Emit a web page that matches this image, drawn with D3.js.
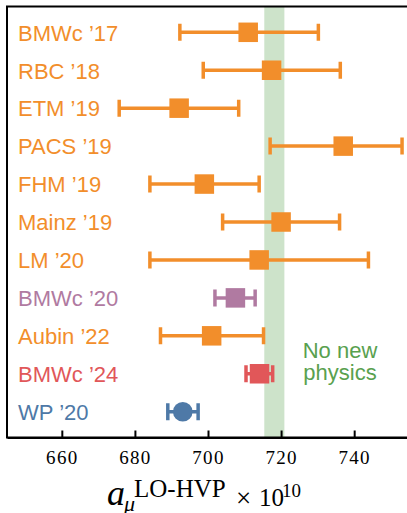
<!DOCTYPE html>
<html>
<head>
<meta charset="utf-8">
<script src="https://cdn.jsdelivr.net/npm/d3@7"></script>
<style>
  html, body { margin: 0; padding: 0; background: #fff; }
  svg { display: block; }
  .serif { font-family: "Liberation Serif", "Times New Roman", serif; }
</style>
</head>
<body>
<svg id="chart" width="407" height="513"></svg>
<script>
// ---- data ----
const labels = ["BMWc ’17", "RBC ’18", "ETM ’19", "PACS ’19", "FHM ’19", "Mainz ’19",
                "LM ’20", "BMWc ’20", "Aubin ’22", "BMWc ’24", "WP ’20"];
const values = [711.0, 717.4, 692.1, 737.0, 699.0, 720.0, 714.0, 707.5, 701.0, 714.1, 693.1];
const lower  = [692.3, 698.7, 675.7, 717.0, 684.1, 704.0, 684.1, 701.9, 687.0, 710.4, 689.0];
const upper  = [730.2, 736.2, 708.4, 753.1, 714.0, 736.0, 743.9, 712.9, 715.2, 717.7, 697.3];
const groups = ["lattice", "lattice", "lattice", "lattice", "lattice", "lattice",
                "lattice", "bmw20", "lattice", "bmw24", "wp"];
const markers = ["square", "square", "square", "square", "square", "square",
                 "square", "square", "square", "square", "circle"];
const band = [715.4, 720.9];
const tickValues = [660, 680, 700, 720, 740];
const bandLabel = ["No new", "physics"];

const colors = { lattice: "#f28e2b", bmw20: "#b07aa1", bmw24: "#e15759", wp: "#4e79a7" };
const green = "#59a14f";

(function () {
// ---- layout ----
const svg = d3.select("#chart");
const pl = 7, pr = 409, pt = 6.5, pb = 437.5;
const serifFam = "'Liberation Serif', 'Times New Roman', serif";

const x = d3.scaleLinear().domain([645, 755]).range([pl, pr]);
const y = d3.scaleLinear().domain([-0.68, 10.68]).range([pt, pb]);

const data = labels.map((l, i) => ({
  label: l, v: values[i], lo: lower[i], hi: upper[i],
  color: colors[groups[i]], marker: markers[i], i
}));

svg.append("defs").append("clipPath").attr("id", "clip")
  .append("rect").attr("x", pl).attr("y", pt).attr("width", pr - pl).attr("height", pb - pt);

const plot = svg.append("g").attr("clip-path", "url(#clip)");

// band
plot.append("rect")
  .attr("x", x(band[0])).attr("width", x(band[1]) - x(band[0]))
  .attr("y", pt).attr("height", pb - pt)
  .attr("fill", green).attr("fill-opacity", 0.3);

// error bars
const capH = 17;
const eb = plot.selectAll("g.eb").data(data).join("g").attr("class", "eb");
eb.append("line")
  .attr("x1", d => x(d.lo)).attr("x2", d => x(d.hi))
  .attr("y1", d => y(d.i)).attr("y2", d => y(d.i))
  .attr("stroke", d => d.color).attr("stroke-width", 3.5);
eb.append("line")
  .attr("x1", d => x(d.lo)).attr("x2", d => x(d.lo))
  .attr("y1", d => y(d.i) - capH / 2).attr("y2", d => y(d.i) + capH / 2)
  .attr("stroke", d => d.color).attr("stroke-width", 3.5);
eb.append("line")
  .attr("x1", d => x(d.hi)).attr("x2", d => x(d.hi))
  .attr("y1", d => y(d.i) - capH / 2).attr("y2", d => y(d.i) + capH / 2)
  .attr("stroke", d => d.color).attr("stroke-width", 3.5);

// markers
const sq = 19.5;
plot.selectAll("rect.m").data(data.filter(d => d.marker === "square")).join("rect")
  .attr("class", "m")
  .attr("x", d => x(d.v) - sq / 2).attr("y", d => y(d.i) - sq / 2)
  .attr("width", sq).attr("height", sq)
  .attr("fill", d => d.color);
plot.selectAll("circle.m").data(data.filter(d => d.marker === "circle")).join("circle")
  .attr("class", "m")
  .attr("cx", d => x(d.v)).attr("cy", d => y(d.i)).attr("r", 9.8)
  .attr("fill", d => d.color);

// labels
svg.selectAll("text.lab").data(data).join("text")
  .attr("class", "lab")
  .attr("x", 18).attr("y", d => y(d.i) + 8.3)
  .style("font-family", "'Liberation Sans', Arial, sans-serif")
  .style("font-size", "22px")
  .attr("fill", d => d.color)
  .text(d => d.label);

// band label
svg.selectAll("text.bl").data(bandLabel).join("text")
  .attr("class", "bl")
  .attr("x", 340).attr("y", (d, i) => 358 + i * 22)
  .attr("text-anchor", "middle")
  .style("font-family", "'Liberation Sans', Arial, sans-serif")
  .style("font-size", "22px")
  .attr("fill", green)
  .text(d => d);

// frame (spines)
svg.append("rect")
  .attr("x", pl).attr("y", pt).attr("width", pr - pl + 10).attr("height", pb - pt)
  .attr("fill", "none").attr("stroke", "#000").attr("stroke-width", 2);

// x axis
const axis = d3.axisBottom(x).tickValues(tickValues).tickSizeInner(-7).tickSizeOuter(0).tickPadding(15);
const gx = svg.append("g").attr("transform", `translate(0,${pb})`).call(axis);
gx.attr("font-family", serifFam).attr("font-size", 19);
gx.select(".domain").attr("stroke", "#000").attr("stroke-width", 2);
gx.selectAll(".tick line").attr("stroke", "#000").attr("stroke-width", 2);
gx.selectAll(".tick text")
  .style("font-family", serifFam)
  .style("font-size", "19px")
  .style("letter-spacing", "1.3px")
  .attr("fill", "#000")
  .attr("dy", null)
  .attr("y", 26.5);

// axis title
const title = svg.append("g").attr("class", "serif");
title.append("text").attr("x", 107).attr("y", 505)
  .style("font-style", "italic").style("font-size", "36px").text("a");
title.append("text").attr("x", 124).attr("y", 511)
  .style("font-style", "italic").style("font-size", "22px").text("μ");
title.append("text").attr("x", 134).attr("y", 497)
  .style("font-size", "25px").text("LO-HVP");
title.append("text").attr("x", 236).attr("y", 507)
  .style("font-size", "27px").text("×");
title.append("text").attr("x", 259).attr("y", 506)
  .style("font-size", "25px").text("10");
title.append("text").attr("x", 282).attr("y", 497)
  .style("font-size", "19px").text("10");
})();
</script>
</body>
</html>
